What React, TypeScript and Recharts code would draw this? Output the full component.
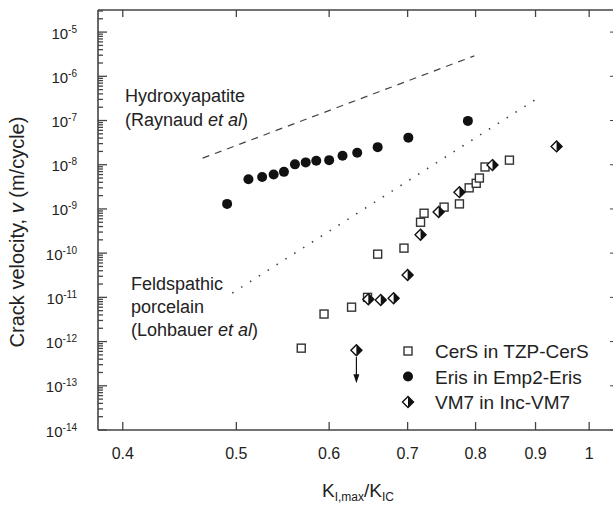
import React from "react";
import { ScatterChart, Scatter, XAxis, YAxis, Legend } from "recharts";

const FONT = "'Liberation Sans', Arial, Helvetica, sans-serif";
const INK = "#222";
const AXIS = "#444";

// K_I,max / K_IC against crack velocity v (m/cycle)
const CERS_K = [0.568, 0.594, 0.627, 0.647, 0.66, 0.695, 0.718, 0.723, 0.752, 0.775, 0.79, 0.801, 0.806, 0.815, 0.855];
const CERS_V = [7.1e-13, 4.2e-12, 6.0e-12, 1.0e-11, 9.5e-11, 1.3e-10, 5.0e-10, 8.0e-10, 1.1e-9, 1.3e-9, 3.0e-9, 3.8e-9, 5.0e-9, 8.9e-9, 1.27e-8];

const ERIS_K = [0.491, 0.512, 0.526, 0.538, 0.549, 0.561, 0.573, 0.585, 0.6, 0.616, 0.634, 0.66, 0.701, 0.788];
const ERIS_V = [1.3e-9, 4.7e-9, 5.3e-9, 6.0e-9, 6.9e-9, 1.02e-8, 1.13e-8, 1.23e-8, 1.27e-8, 1.6e-8, 1.86e-8, 2.5e-8, 4.1e-8, 9.8e-8];

const VM7_K = [0.633, 0.648, 0.664, 0.681, 0.7, 0.718, 0.744, 0.775, 0.827, 0.938];
const VM7_V = [6.4e-13, 9.1e-12, 8.7e-12, 9.6e-12, 3.2e-11, 2.6e-10, 8.5e-10, 2.4e-9, 9.8e-9, 2.6e-8];
const VM7_UPPER_BOUND = [true, false, false, false, false, false, false, false, false, false];

// literature trend lines
const HYDROXY_K = [0.468, 0.798];
const HYDROXY_V = [1.41e-8, 2.9e-6];
const FELDSPAR_K = [0.496, 0.907];
const FELDSPAR_V = [1.25e-11, 3.4e-7];

const X_TICKS = [0.4, 0.5, 0.6, 0.7, 0.8, 0.9, 1];
const Y_DECADES = [-14, -13, -12, -11, -10, -9, -8, -7, -6, -5];
const Y_MINOR_STEPS = [2, 3, 4, 5, 6, 7, 8, 9];
const X_DOMAIN = [0.381, 1.05];
const Y_DOMAIN = [1e-14, 3.16e-5];

const Y_MAJOR = Y_DECADES.map((e) => Math.pow(10, e));
const Y_TICKS = [
  ...Y_MAJOR,
  ...Y_DECADES.flatMap((e) => Y_MINOR_STEPS.map((m) => m * Math.pow(10, e))),
]
  .filter((t) => t <= Y_DOMAIN[1])
  .sort((a, b) => a - b);

const zip = (ks: number[], vs: number[], upper?: boolean[]) =>
  ks.map((k, i) => ({ k, v: vs[i], upper: upper ? upper[i] : false }));

const cersData = zip(CERS_K, CERS_V);
const erisData = zip(ERIS_K, ERIS_V);
const vm7Data = zip(VM7_K, VM7_V, VM7_UPPER_BOUND);
const hydroxyData = zip(HYDROXY_K, HYDROXY_V);
const feldsparData = zip(FELDSPAR_K, FELDSPAR_V);

function OpenSquare({ cx, cy }: any) {
  return <rect x={cx - 4} y={cy - 4} width={8} height={8} fill="#fff" stroke="#333" strokeWidth={1.4} />;
}

function FilledCircle({ cx, cy }: any) {
  return <circle cx={cx} cy={cy} r={5} fill="#111" />;
}

function HalfDiamond({ cx, cy, payload }: any) {
  const r = 5.5;
  return (
    <g>
      {payload?.upper && (
        <g>
          <line x1={cx} x2={cx} y1={cy + 7} y2={cy + 27} stroke="#111" strokeWidth={1.2} />
          <polygon points={`${cx - 3},${cy + 24} ${cx + 3},${cy + 24} ${cx},${cy + 33}`} fill="#111" />
        </g>
      )}
      <polygon
        points={`${cx},${cy - r} ${cx + r},${cy} ${cx},${cy + r} ${cx - r},${cy}`}
        fill="#fff"
        stroke="#111"
        strokeWidth={1.4}
      />
      <polygon points={`${cx},${cy - r} ${cx + r},${cy} ${cx},${cy + r}`} fill="#111" />
    </g>
  );
}

const NoMark = () => <g />;

function LeftTick({ x, y, payload }: any) {
  const e = Math.log10(payload.value);
  const major = Math.abs(e - Math.round(e)) < 1e-6;
  return (
    <g>
      <line x1={x} x2={x + (major ? 9 : 5)} y1={y} y2={y} stroke={AXIS} strokeWidth={1.3} />
      {major && (
        <text x={x - 21} y={y + 6.5} textAnchor="end" fontSize={15} fill={INK} fontFamily={FONT}>
          10
          <tspan dy={-6} fontSize={10}>
            {Math.round(e)}
          </tspan>
        </text>
      )}
    </g>
  );
}

function RightTick({ x, y, payload }: any) {
  const e = Math.log10(payload.value);
  const major = Math.abs(e - Math.round(e)) < 1e-6;
  if (!major) return <g />;
  return <line x1={x} x2={x - 4} y1={y} y2={y} stroke={AXIS} strokeWidth={1} />;
}

function BottomTick({ x, y, payload }: any) {
  return (
    <g>
      <line x1={x} x2={x} y1={y} y2={y - 8} stroke={AXIS} strokeWidth={1.3} />
      <text x={x} y={y + 29} textAnchor="middle" fontSize={16} fill={INK} fontFamily={FONT}>
        {payload.value}
      </text>
    </g>
  );
}

function TopTick({ x, y }: any) {
  return <line x1={x} x2={x} y1={y} y2={y + 7} stroke={AXIS} strokeWidth={1.3} />;
}

const LEGEND_SHAPES: Record<string, any> = {
  "CerS in TZP-CerS": OpenSquare,
  "Eris in Emp2-Eris": FilledCircle,
  "VM7 in Inc-VM7": HalfDiamond,
};

function LegendBox({ payload }: any) {
  const items = (payload || []).filter((p: any) => LEGEND_SHAPES[p.value]);
  return (
    <svg width={220} height={80}>
      {items.map((p: any, i: number) => {
        const Shape = LEGEND_SHAPES[p.value];
        const cy = 15 + i * 25.5;
        return (
          <g key={p.value}>
            <Shape cx={13} cy={cy} payload={{}} />
            <text x={40} y={cy + 7} fontSize={19} fill={INK} fontFamily={FONT}>
              {p.value}
            </text>
          </g>
        );
      })}
    </svg>
  );
}

export default function App() {
  return (
    <div
      style={{
        position: "absolute",
        left: 0,
        top: 0,
        width: 613,
        height: 509,
        overflow: "hidden",
        background: "#fff",
      }}
    >
      <ScatterChart width={620} height={509} margin={{ top: 0, right: 0, bottom: 0, left: 0 }}>
        <XAxis
          xAxisId="k"
          dataKey="k"
          type="number"
          scale="log"
          domain={X_DOMAIN}
          allowDataOverflow
          ticks={X_TICKS}
          interval={0}
          height={79}
          tickSize={0}
          tickMargin={0}
          tick={<BottomTick />}
          axisLine={{ stroke: AXIS, strokeWidth: 1.6 }}
        />
        <XAxis
          xAxisId="top"
          orientation="top"
          dataKey="k"
          type="number"
          scale="log"
          domain={X_DOMAIN}
          allowDataOverflow
          ticks={X_TICKS}
          interval={0}
          height={10}
          tickSize={0}
          tickMargin={0}
          tick={<TopTick />}
          axisLine={{ stroke: AXIS, strokeWidth: 1.6 }}
        />
        <YAxis
          yAxisId="v"
          dataKey="v"
          type="number"
          scale="log"
          domain={Y_DOMAIN}
          allowDataOverflow
          ticks={Y_TICKS}
          interval={0}
          width={98}
          tickSize={0}
          tickMargin={0}
          tick={<LeftTick />}
          axisLine={{ stroke: AXIS, strokeWidth: 1.6 }}
        />
        <YAxis
          yAxisId="vr"
          orientation="right"
          dataKey="v"
          type="number"
          scale="log"
          domain={Y_DOMAIN}
          allowDataOverflow
          ticks={Y_MAJOR}
          interval={0}
          width={6}
          tickSize={0}
          tickMargin={0}
          tick={<RightTick />}
          axisLine={{ stroke: AXIS, strokeWidth: 1.6 }}
        />

        <Scatter
          name="Hydroxyapatite"
          data={hydroxyData}
          xAxisId="k"
          yAxisId="v"
          line={{ stroke: "#444", strokeWidth: 1.2, strokeDasharray: "7 6" }}
          lineType="joint"
          shape={NoMark}
          legendType="none"
          isAnimationActive={false}
        />
        <Scatter
          name="Feldspathic porcelain"
          data={feldsparData}
          xAxisId="k"
          yAxisId="v"
          line={{ stroke: "#444", strokeWidth: 1.6, strokeDasharray: "1.5 9" }}
          lineType="joint"
          shape={NoMark}
          legendType="none"
          isAnimationActive={false}
        />
        <Scatter
          name="CerS in TZP-CerS"
          data={cersData}
          xAxisId="k"
          yAxisId="v"
          shape={OpenSquare}
          isAnimationActive={false}
        />
        <Scatter
          name="Eris in Emp2-Eris"
          data={erisData}
          xAxisId="k"
          yAxisId="v"
          shape={FilledCircle}
          isAnimationActive={false}
        />
        <Scatter
          name="VM7 in Inc-VM7"
          data={vm7Data}
          xAxisId="k"
          yAxisId="v"
          shape={HalfDiamond}
          isAnimationActive={false}
        />

        <Legend
          layout="vertical"
          align="center"
          verticalAlign="middle"
          content={<LegendBox />}
          wrapperStyle={{ left: 395, top: 336, width: 220, height: 80 }}
        />

        <g fontFamily={FONT} fill={INK} fontSize={18}>
          <text x={125} y={102}>Hydroxyapatite</text>
          <text x={125} y={126}>
            {"(Raynaud "}
            <tspan fontStyle="italic">et al</tspan>
            {")"}
          </text>
          <text x={131} y={290}>Feldspathic</text>
          <text x={131} y={313}>porcelain</text>
          <text x={131} y={336}>
            {"(Lohbauer "}
            <tspan fontStyle="italic">et al</tspan>
            {")"}
          </text>
          <text x={24} y={232} fontSize={20} textAnchor="middle" transform="rotate(-90 24 232)">
            {"Crack velocity, "}
            <tspan fontStyle="italic">v</tspan>
            {" (m/cycle)"}
          </text>
          <text x={358} y={497} fontSize={19} textAnchor="middle">
            K
            <tspan fontSize={12} dy={4}>
              I,max
            </tspan>
            <tspan dy={-4}>/K</tspan>
            <tspan fontSize={12} dy={4}>
              IC
            </tspan>
          </text>
        </g>
      </ScatterChart>
    </div>
  );
}
